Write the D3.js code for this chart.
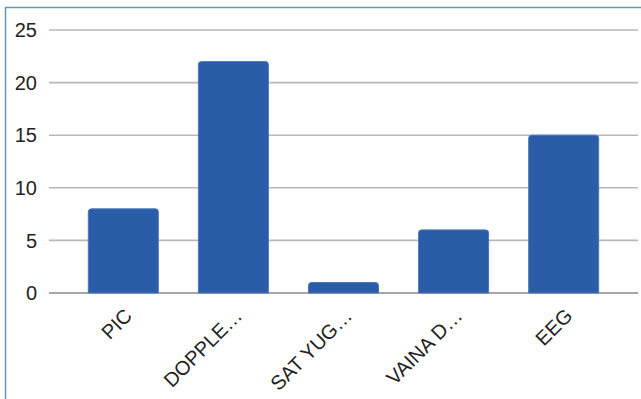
<!DOCTYPE html>
<html>
<head>
<meta charset="utf-8">
<script src="https://cdn.jsdelivr.net/npm/d3@7"></script>
<style>
    body { margin: 0; background: #fff; }
    text { font-family: "Liberation Sans", Arial, sans-serif; fill: #222; }
</style>
</head>
<body>
<svg id="chart" width="641" height="399"></svg>
<script>
var categories = ["PIC", "DOPPLE…", "SAT YUG…", "VAINA D…", "EEG"];
var values = [8, 22, 1, 6, 15];
var yTicks = [0, 5, 10, 15, 20, 25];

var width = 641;
var height = 399;

var svg = d3.select("#chart");

// frame lines (top and left only show in the picture)
svg.append("line")
    .attr("x1", 5).attr("x2", width).attr("y1", 7.5).attr("y2", 7.5)
    .attr("stroke", "#5b9cae").attr("stroke-width", 1.5);
svg.append("line")
    .attr("x1", 5.5).attr("x2", 5.5).attr("y1", 7).attr("y2", height)
    .attr("stroke", "#5b9cae").attr("stroke-width", 1.5);

var x = d3.scaleBand()
    .domain(categories)
    .range([49, 638])
    .paddingInner(0.364)
    .paddingOuter(0.357);

var y = d3.scaleLinear()
    .domain([0, 25])
    .range([293, 30]);

// gridlines
svg.append("g").selectAll("line")
    .data(yTicks)
    .enter().append("line")
    .attr("x1", 49).attr("x2", 638)
    .attr("y1", function (d) { return y(d); })
    .attr("y2", function (d) { return y(d); })
    .attr("stroke", function (d) { return d === 0 ? "#888" : "#b8b8b8"; })
    .attr("stroke-width", 1.6);

// y labels
svg.append("g").selectAll("text")
    .data(yTicks)
    .enter().append("text")
    .attr("x", 37)
    .attr("y", function (d) { return y(d); })
    .attr("dy", "0.36em")
    .attr("text-anchor", "end")
    .attr("font-size", "20px")
    .text(function (d) { return d; });

// bars with rounded tops
function barPath(x0, y0, w, h, r) {
    return "M" + x0 + "," + (y0 + h) +
        "V" + (y0 + r) +
        "Q" + x0 + "," + y0 + " " + (x0 + r) + "," + y0 +
        "H" + (x0 + w - r) +
        "Q" + (x0 + w) + "," + y0 + " " + (x0 + w) + "," + (y0 + r) +
        "V" + (y0 + h) + "Z";
}

svg.append("g").selectAll("path")
    .data(values)
    .enter().append("path")
    .attr("d", function (d, i) {
        var x0 = x(categories[i]);
        return barPath(x0, y(d), x.bandwidth(), y(0) - y(d), 3);
    })
    .attr("fill", "#2a5ca8")
    .attr("stroke", "#4b78bb")
    .attr("stroke-width", 1);

// x labels, rotated
svg.append("g").selectAll("text")
    .data(categories)
    .enter().append("text")
    .attr("text-anchor", "end")
    .attr("font-size", "20px")
    .attr("transform", function (d) {
        var cx = x(d) + x.bandwidth() / 2 + 10;
        return "translate(" + cx + ",317) rotate(-45)";
    })
    .text(function (d) { return d; });
</script>
</body>
</html>
